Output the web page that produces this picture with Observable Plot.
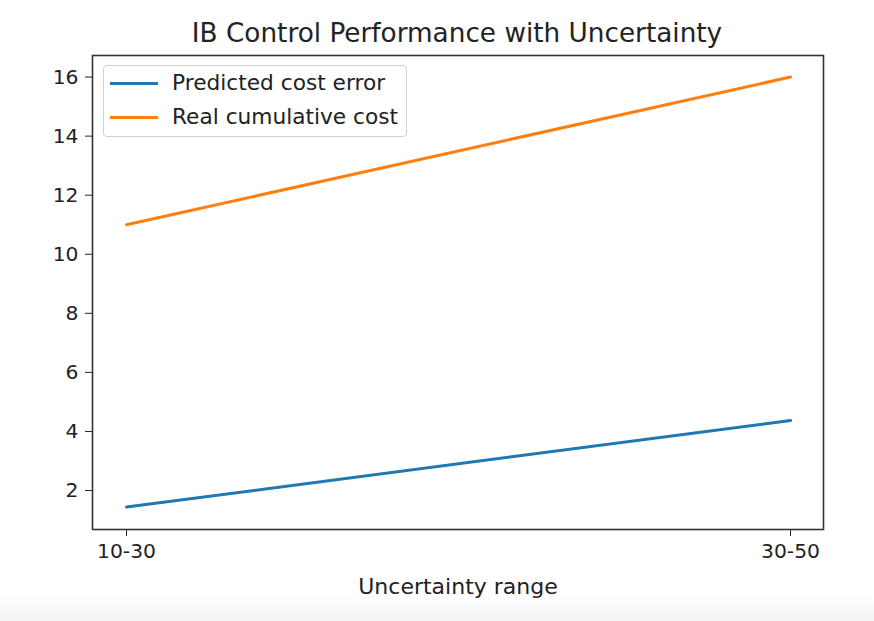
<!DOCTYPE html>
<html><head><meta charset="utf-8">
<script src="https://cdn.jsdelivr.net/npm/d3@7"></script>
<script src="https://cdn.jsdelivr.net/npm/@observablehq/plot@0.6"></script>
<style>
html,body{margin:0;padding:0}
body{width:874px;height:621px;overflow:hidden;font-family:"DejaVu Sans",sans-serif;background:linear-gradient(to bottom,#fff 0,#fff 596px,#f3f3f3 621px);position:relative;color:#222}
#title{height:45px;box-sizing:border-box;padding-top:20px;font-size:26.3px;line-height:26px;text-align:center;width:874px;padding-left:40px;white-space:nowrap}
#title span{display:inline-block}
#legend{position:absolute;left:103px;top:65px;width:304px;height:72px;border:1px solid #d0d0d0;border-radius:4px;background:rgba(255,255,255,0.8);box-sizing:border-box}
.item{position:absolute;left:0;height:34px;width:100%}
.swatch{position:absolute;left:6px;width:48px;height:3px}
.lab{position:absolute;left:68px;font-size:21.7px;line-height:20px;white-space:nowrap}
</style></head><body>
<div id="title"></div>
<div id="chart"></div>
<div id="legend"></div>
<script>
const titleText = "IB Control Performance with Uncertainty";
const xLabel = "Uncertainty range";
const categories = ["10-30", "30-50"];
const predictedCostError = [1.44, 4.37];
const realCumulativeCost = [11.0, 16.0];
const yTicks = [2, 4, 6, 8, 10, 12, 14, 16];
const seriesNames = ["Predicted cost error", "Real cumulative cost"];
const seriesColors = ["#1f77b4", "#ff7f0e"];

document.getElementById("title").innerHTML = "<span>" + titleText + "</span>";

const data = [
  ...categories.map((c, i) => ({cat: c, value: predictedCostError[i], series: seriesNames[0]})),
  ...categories.map((c, i) => ({cat: c, value: realCumulativeCost[i], series: seriesNames[1]}))
];

const chart = Plot.plot({
  width: 874, height: 576,
  marginTop: 10, marginBottom: 92, marginLeft: 92, marginRight: 51,
  style: {fontFamily: "DejaVu Sans", fontSize: "20px", color: "#222", background: "transparent"},
  x: {type: "point", domain: categories, padding: 0.05},
  y: {domain: [0.68, 16.73]},
  color: {domain: seriesNames, range: seriesColors},
  marks: [
    Plot.axisX({tickSize: 7, tickPadding: 7, fontSize: 20.3, label: null}),
    Plot.axisY({ticks: yTicks, tickSize: 7, tickPadding: 7, fontSize: 20.3, label: null, tickFormat: d => String(d)}),
    Plot.lineY(data, {x: "cat", y: "value", z: "series", stroke: "series", strokeWidth: 3}),
    Plot.frame({stroke: "#333", strokeWidth: 1.6}),
    Plot.text([xLabel], {text: d => d, frameAnchor: "bottom", dy: 57, lineAnchor: "middle", fontSize: 22})
  ]
});
document.getElementById("chart").appendChild(chart);

const legend = document.getElementById("legend");
seriesNames.forEach((name, i) => {
  const item = document.createElement("div");
  item.className = "item";
  item.style.top = (i * 34) + "px";
  item.innerHTML = `<div class="swatch" style="top:16px;background:${seriesColors[i]}"></div><div class="lab" style="top:7px">${name}</div>`;
  legend.appendChild(item);
});
</script>
</body></html>
